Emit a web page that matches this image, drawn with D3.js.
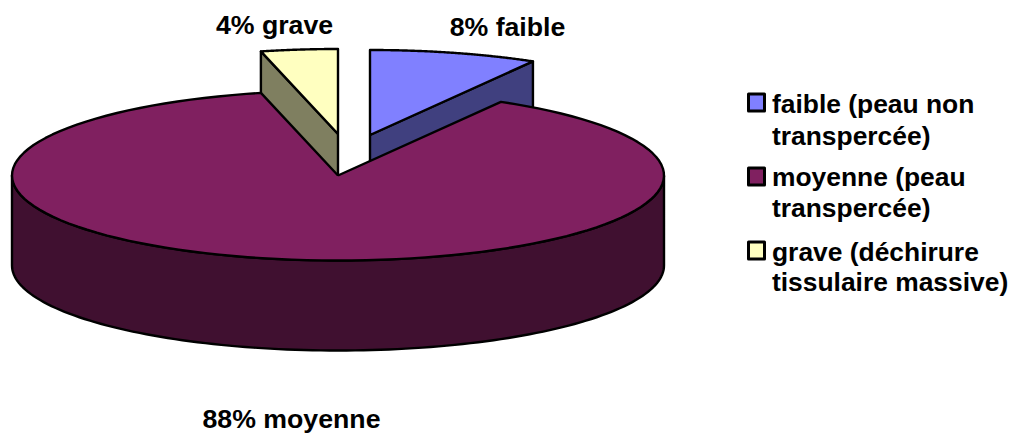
<!DOCTYPE html>
<html><head><meta charset="utf-8">
<script src="https://cdnjs.cloudflare.com/ajax/libs/d3/7.8.5/d3.min.js"></script>
<style>html,body{margin:0;background:#fff}svg{display:block}
text{font-family:"Liberation Sans",Arial,sans-serif;font-weight:700;fill:#000}
.lab{font-size:26.7px}.leg{font-size:26.4px}</style>
</head><body><svg id="c" width="1014" height="439"></svg>
<script>
const categories = ["faible", "moyenne", "grave"];
const values = [8.33, 87.87, 3.8];
const dataLabels = ["8% faible", "88% moyenne", "4% grave"];
const legendLines = [["faible (peau non", "transpercée)"], ["moyenne (peau", "transpercée)"], ["grave (déchirure", "tissulaire massive)"]];
const topColors = ["#8080ff", "#802060", "#ffffc0"];
const sideColors = ["#40407f", "#401030", "#7f7f60"];

const rx = 326, ry = 85, depth = 90;
const centers = [[370, 135], [338, 175.5], [338, 134]];
const labelPos = [[507.5, 36], [291.5, 428], [274.5, 33.5]];
const legendSwatchY = [94, 168, 242];
const legendBaselines = [[113, 144.5], [186, 217], [261, 290.5]];

const svg = d3.select("#c");
const arcs = d3.pie().sort(null).startAngle(0).endAngle(2 * Math.PI)(values);
const px = d3.scaleLinear().domain([-1, 1]).range([-rx, rx]);
const py = d3.scaleLinear().domain([-1, 1]).range([ry, -ry]);
const pt = (c, a, dz = 0) => [c[0] + px(Math.sin(a)), c[1] + py(Math.cos(a)) + dz];
const line = d3.line().curve(d3.curveLinear);
const samples = (a0, a1) => d3.range(0, 121).map(i => a0 + (a1 - a0) * i / 120);
const sty = (s, fill, w = 2.4) => s.attr("fill", fill).attr("stroke", "#000").attr("stroke-width", w).attr("stroke-linejoin", "round");

// small slices first, the large slice overlaps them
[0, 2, 1].forEach(i => {
  const d = arcs[i], c = centers[i], g = svg.append("g");
  const a0 = d.startAngle, a1 = d.endAngle;
  const apex = c, apexB = [c[0], c[1] + depth];
  const cut = a => [apex, pt(c, a), pt(c, a, depth), apexB, apex];
  if (Math.sin(a0) < -1e-6) sty(g.append("path").attr("d", line(cut(a0))), sideColors[i]);
  if (Math.sin(a1) > 1e-6) sty(g.append("path").attr("d", line(cut(a1))), sideColors[i]);
  // outer wall: only the part facing the viewer
  const fa0 = Math.max(a0, Math.PI / 2), fa1 = Math.min(a1, 3 * Math.PI / 2);
  if (fa1 > fa0) {
    const s = samples(fa0, fa1);
    const poly = s.map(a => pt(c, a)).concat(s.slice().reverse().map(a => pt(c, a, depth)));
    poly.push(poly[0]);
    sty(g.append("path").attr("d", line(poly)), sideColors[i]);
  }
  const top = [apex].concat(samples(a0, a1).map(a => pt(c, a)));
  top.push(apex);
  sty(g.append("path").attr("d", line(top)), topColors[i]);
});

svg.selectAll("text.lab").data(dataLabels).join("text").attr("class", "lab")
  .attr("text-anchor", "middle")
  .attr("x", (d, i) => labelPos[i][0]).attr("y", (d, i) => labelPos[i][1]).text(d => d);

categories.forEach((cat, i) => {
  sty(svg.append("rect").attr("x", 748.5).attr("y", legendSwatchY[i]).attr("width", 16).attr("height", 17), topColors[i], 3);
  legendLines[i].forEach((t, j) => svg.append("text").attr("class", "leg").attr("x", 772).attr("y", legendBaselines[i][j]).text(t));
});
</script></body></html>
